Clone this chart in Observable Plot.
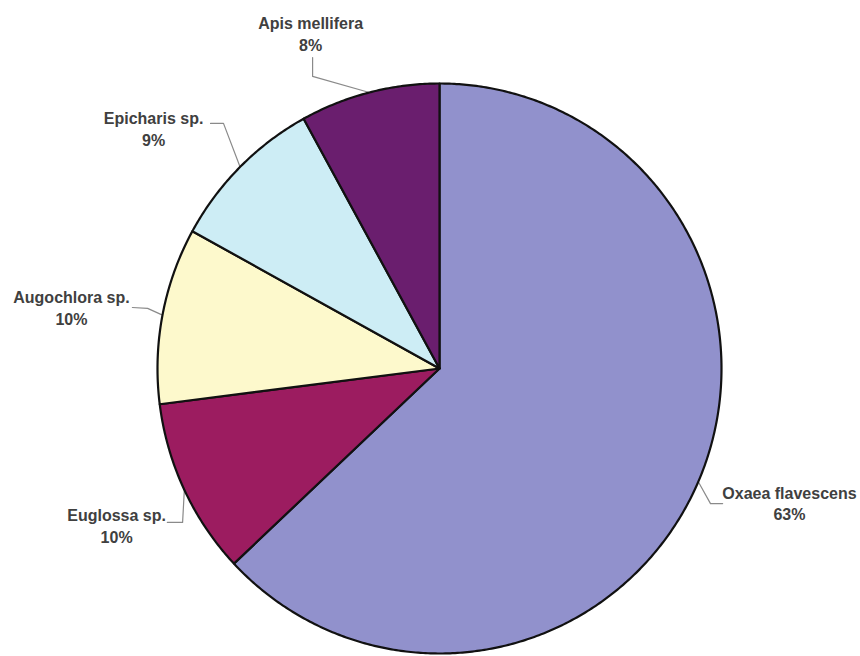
<!DOCTYPE html>
<html>
<head>
<meta charset="utf-8">
<script src="https://cdn.jsdelivr.net/npm/d3@7"></script>
<script src="https://cdn.jsdelivr.net/npm/@observablehq/plot@0.6"></script>
<style>
  html, body { margin: 0; padding: 0; background: #fff; }
  #chart { width: 860px; height: 656px; }
</style>
</head>
<body>
<div id="chart"></div>
<script>
// Bee visitors, share of visits (%), clockwise from 12 o'clock
const species = ["Oxaea flavescens", "Euglossa sp.", "Augochlora sp.", "Epicharis sp.", "Apis mellifera"];
const shares = [63, 10, 10, 9, 8];
const colors = ["#9191cc", "#9c1c60", "#fdf9cc", "#cdedf5", "#6a1e6e"];

// Label placement in pie-radius units: text centre, and leader elbow / end
const labelLayout = {
  "Oxaea flavescens": {tx: 1.241, ty: -0.47, lead: [[1.004, -0.474], [0.961, -0.474]]},
  "Euglossa sp.":     {tx: -1.145, ty: -0.55, lead: [[-0.965, -0.540], [-0.911, -0.540]]},
  "Augochlora sp.":   {tx: -1.305, ty: 0.215, lead: [[-1.089, 0.214], [-1.035, 0.211]]},
  "Epicharis sp.":    {tx: -1.014, ty: 0.844, lead: [[-0.812, 0.860], [-0.766, 0.860]]},
  "Apis mellifera":   {tx: -0.457, ty: 1.177, lead: [[-0.450, 1.091], [-0.450, 1.025]]}
};

const data = species.map((name, i) => ({name, value: shares[i]}));
const arcs = d3.pie().sort(null).value(d => d.value)(data);

// Wedge outlines: centre -> arc -> centre
const wedgePts = [];
for (const a of arcs) {
  wedgePts.push({name: a.data.name, x: 0, y: 0});
  const n = Math.max(2, Math.ceil((a.endAngle - a.startAngle) / (Math.PI / 360)));
  for (let k = 0; k <= n; k++) {
    const t = a.startAngle + (a.endAngle - a.startAngle) * k / n;
    wedgePts.push({name: a.data.name, x: Math.sin(t), y: Math.cos(t)});
  }
  wedgePts.push({name: a.data.name, x: 0, y: 0});
}

// Leader lines: from label, through elbow, to the rim at the slice's mid-angle
const leaderPts = [];
for (const a of arcs) {
  const L = labelLayout[a.data.name];
  const mid = (a.startAngle + a.endAngle) / 2;
  for (const [x, y] of L.lead) leaderPts.push({name: a.data.name, x, y});
  leaderPts.push({name: a.data.name, x: Math.sin(mid), y: Math.cos(mid)});
}

const labels = arcs.map(a => ({
  name: a.data.name,
  text: `${a.data.name}\n${a.data.value}%`,
  x: labelLayout[a.data.name].tx,
  y: labelLayout[a.data.name].ty
}));

const chart = Plot.plot({
  width: 860,
  height: 656,
  margin: 0,
  x: {domain: [-1, 1], range: [157, 721], axis: null},
  y: {domain: [-1, 1], range: [653, 83], axis: null},
  color: {domain: species, range: colors},
  marks: [
    Plot.line(leaderPts, {x: "x", y: "y", z: "name", stroke: "#8a8a8a", strokeWidth: 1.2}),
    Plot.line(wedgePts, {
      x: "x", y: "y", z: "name", fill: "name",
      stroke: "#111", strokeWidth: 2.2, strokeLinejoin: "round", curve: "linear"
    }),
    Plot.text(labels, {
      x: "x", y: "y", text: "text",
      fontFamily: "Liberation Sans, Arial, sans-serif",
      fontSize: 16, fontWeight: "bold", lineHeight: 1.35,
      fill: "#404040", textAnchor: "middle"
    })
  ]
});

document.getElementById("chart").appendChild(chart);
</script>
</body>
</html>
